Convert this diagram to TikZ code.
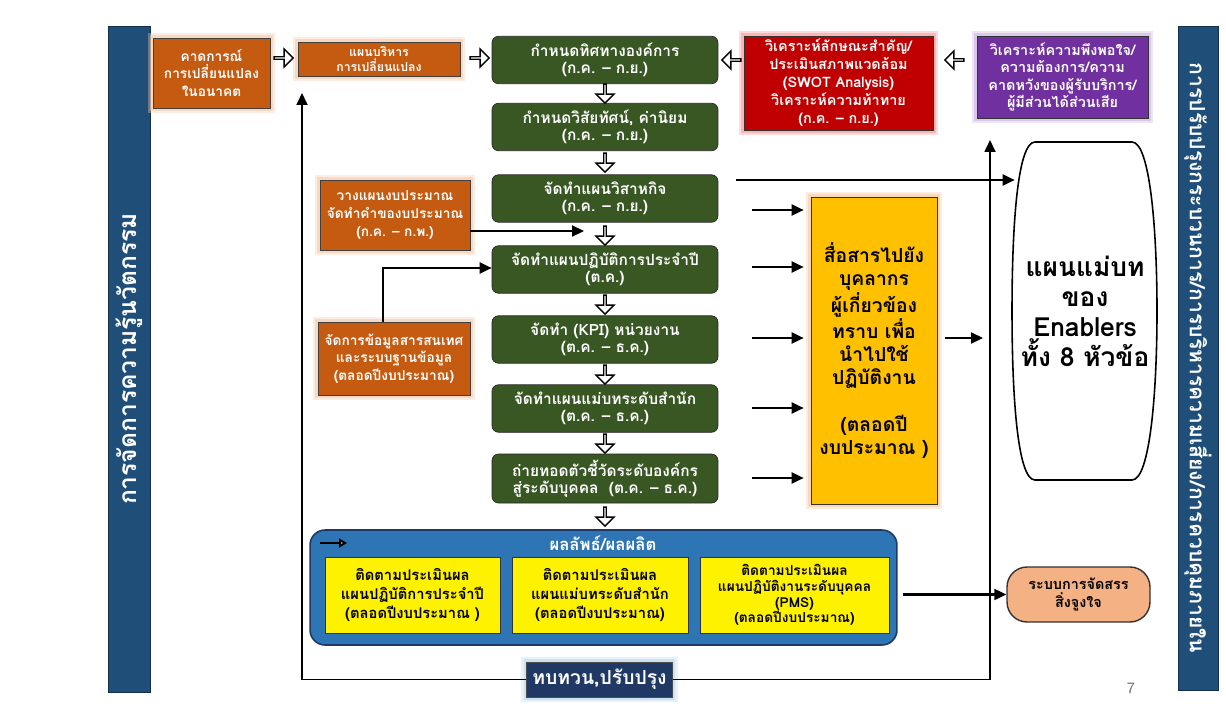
\documentclass[tikz,border=0pt]{standalone}
\usepackage{fontspec}
\newfontfamily\thai[Script=Thai]{Loma}
\usetikzlibrary{arrows.meta,shapes.arrows,positioning,calc}

\definecolor{sideblue}{HTML}{1F4E79}
\definecolor{boxorange}{HTML}{C55A11}
\definecolor{gloworange}{HTML}{F8CBAD}
\definecolor{boxgreen}{HTML}{385723}
\definecolor{boxred}{HTML}{C00000}
\definecolor{glowred}{HTML}{FF9A9A}
\definecolor{boxpurple}{HTML}{7030A0}
\definecolor{glowpurple}{HTML}{CDB6E2}
\definecolor{boxgold}{HTML}{FFC000}
\definecolor{boxblue}{HTML}{2E75B6}
\definecolor{boxnavy}{HTML}{203864}
\definecolor{glowblue}{HTML}{BDD7EE}
\definecolor{boxpeach}{HTML}{F4B183}

\begin{document}
\begin{tikzpicture}
        [x=0.02cm, y=-0.02cm,
        glow/.style={preaction={draw=#1, line width=6pt, opacity=0.35},
          preaction={draw=#1, line width=3pt, opacity=0.6}},
        side/.style={draw=sideblue!60!black, fill=sideblue, text=white, inner sep=0pt,
          font=\thai\bfseries\fontsize{13}{15}\selectfont},
        obox/.style={draw=black!75, fill=boxorange, text=white, align=center, inner sep=1pt,
          glow=gloworange, font=\thai\bfseries\fontsize{7.8}{10}\selectfont},
        gbox/.style={draw=black!85, fill=boxgreen, text=white, align=center, inner sep=1pt,
          rounded corners=0.13cm, minimum width=4.52cm, minimum height=0.95cm,
          font=\thai\bfseries\fontsize{8.8}{9.6}\selectfont},
        ybox/.style={draw=black!80, fill=yellow, align=center, inner sep=1pt,
          font=\thai\bfseries\fontsize{8.4}{10.6}\selectfont},
        hollow/.style={single arrow, draw=black, fill=white, line width=0.8pt, inner sep=0pt,
          minimum width=0.36cm, minimum height=0.38cm, single arrow head extend=0.09cm},
        conn/.style={line width=1.2pt, -{Triangle[length=2.4mm, width=2.2mm]}},
        fbline/.style={line width=1pt}]

        \fill[white] (0,0) rectangle (1226,713);
        \useasboundingbox (0,0) rectangle (1226,713);

        % side bars
        \node[side, rotate=90, minimum width=13.32cm, minimum height=0.84cm,
          font=\thai\bfseries\fontsize{14}{16}\selectfont] (lbar) at (129,359) {การจัดการความรู้นวัตกรรม};
        \node[side, rotate=-90, minimum width=13.28cm, minimum height=0.80cm] (rbar) at (1198,358) {};
        \node[text=white, rotate=-90, inner sep=0pt,
          font=\thai\bfseries\fontsize{12}{13}\selectfont] (rbartext) at (rbar.center) {การปรับปรุงกระบวนการ/การบริหารความเสี่ยง/การควบคุมภายใน};

        % top row
        \node[obox, minimum width=2.34cm, minimum height=1.4cm] (fore) at (211.5,73) {คาดการณ์\\การเปลี่ยนแปลง\\ในอนาคต};
        \node[obox, minimum width=3.24cm, minimum height=0.68cm, font=\thai\bfseries\fontsize{7}{8.2}\selectfont] (chg) at (379,59) {แผนบริหาร\\การเปลี่ยนแปลง};
        \node[draw=black!80, fill=boxred, text=white, align=center, inner sep=1pt, glow=glowred,
          minimum width=3.78cm, minimum height=1.88cm, font=\thai\bfseries\fontsize{8.2}{10.2}\selectfont] (swot) at (838.5,83)
          {วิเคราะห์ลักษณะสำคัญ/\\ประเมินสภาพแวดล้อม\\(SWOT Analysis)\\วิเคราะห์ความท้าทาย\\(ก.ค. – ก.ย.)};
        \node[draw=black!80, fill=boxpurple, text=white, align=center, inner sep=1pt, glow=glowpurple,
          minimum width=3.42cm, minimum height=1.64cm, font=\thai\bfseries\fontsize{8.2}{9.8}\selectfont] (cust) at (1062.5,77)
          {วิเคราะห์ความพึงพอใจ/\\ความต้องการ/ความ\\คาดหวังของผู้รับบริการ/\\ผู้มีส่วนได้ส่วนเสีย};

        % main chain of green steps
        \node[gbox] (g1) at (605,60) {กำหนดทิศทางองค์การ\\(ก.ค. – ก.ย.)};
        \node[gbox] (g2) at (605,127) {กำหนดวิสัยทัศน์, ค่านิยม\\(ก.ค. – ก.ย.)};
        \node[gbox] (g3) at (605,198.5) {จัดทำแผนวิสาหกิจ\\(ก.ค. – ก.ย.)};
        \node[gbox] (g4) at (605,269.5) {จัดทำแผนปฏิบัติการประจำปี\\(ต.ค.)};
        \node[gbox] (g5) at (605,339.5) {จัดทำ (KPI) หน่วยงาน\\(ต.ค. – ธ.ค.)};
        \node[gbox] (g6) at (605,408.5) {จัดทำแผนแม่บทระดับสำนัก\\(ต.ค. – ธ.ค.)};
        \node[gbox, minimum height=0.98cm] (g7) at (605,478.5) {ถ่ายทอดตัวชี้วัดระดับองค์กร\\สู่ระดับบุคคล~~(ต.ค. – ธ.ค.)};

        % hollow arrows
        \foreach \yy [count=\i] in {93,162,235,304,374,443,516}
          \node[hollow, shape border rotate=270] (d\i) at (605,\yy) {};
        \node[hollow] (h1) at (283,58) {};
        \node[hollow] (h2) at (479,58) {};
        \node[hollow, shape border rotate=180] (h3) at (732,60) {};
        \node[hollow, shape border rotate=180] (h4) at (955,60) {};

        % side inputs
        \node[obox, minimum width=3.0cm, minimum height=1.4cm] (bud) at (395,215) {วางแผนงบประมาณ\\จัดทำคำของบประมาณ\\(ก.ค. – ก.พ.)};
        \node[obox, minimum width=3.04cm, minimum height=1.46cm] (info) at (394,358.5) {จัดการข้อมูลสารสนเทศ\\และระบบฐานข้อมูล\\(ตลอดปีงบประมาณ)};

        % communication and master plan
        \node[draw=black!80, fill=boxgold, align=center, inner sep=1pt, glow=gloworange,
          minimum width=2.52cm, minimum height=6.14cm, font=\thai\bfseries\fontsize{11}{13.2}\selectfont] (comm) at (874,350.5)
          {สื่อสารไปยัง\\บุคลากร\\ผู้เกี่ยวข้อง\\ทราบ เพื่อ\\นำไปใช้\\ปฏิบัติงาน\\[13.2pt](ตลอดปี\\งบประมาณ )};
        \node[align=center, inner sep=0pt, minimum width=2.8cm, minimum height=6.74cm,
          font=\thai\bfseries\fontsize{15}{17}\selectfont] (big) at (1085,311.5)
          {แผนแม่บท\\ของ\\Enablers\\ทั้ง 8 หัวข้อ};
        \draw[line width=0.9pt] (1035,142) -- (1132,142)
          .. controls (1150,142) and (1157,230) .. (1157,311)
          .. controls (1157,392) and (1150,480) .. (1132,480) -- (1035,480)
          .. controls (1017,480) and (1012,392) .. (1012,311)
          .. controls (1012,230) and (1017,142) .. (1035,142) -- cycle;

        % results panel
        \node[draw=boxnavy, fill=boxblue, line width=0.9pt, rounded corners=0.3cm,
          minimum width=11.74cm, minimum height=2.3cm] (res) at (603.5,587.5) {};
        \node[text=white, font=\thai\bfseries\fontsize{9.5}{11}\selectfont] (restitle) at (603,543) {ผลลัพธ์/ผลผลิต};
        \node[ybox, minimum width=3.5cm, minimum height=1.52cm] (y1) at (412.5,595) {ติดตามประเมินผล\\แผนปฏิบัติการประจำปี\\(ตลอดปีงบประมาณ )};
        \node[ybox, minimum width=3.52cm, minimum height=1.52cm] (y2) at (600,595) {ติดตามประเมินผล\\แผนแม่บทระดับสำนัก\\(ตลอดปีงบประมาณ)};
        \node[ybox, minimum width=3.78cm, minimum height=1.52cm, font=\thai\bfseries\fontsize{7.8}{8.9}\selectfont] (y3) at (794.5,595)
          {ติดตามประเมินผล\\แผนปฏิบัติงานระดับบุคคล\\(PMS)\\(ตลอดปีงบประมาณ)};
        \node[draw=black!80, fill=boxpeach, align=center, rounded corners=0.4cm, line width=0.8pt,
          minimum width=2.86cm, minimum height=1.1cm, font=\thai\bfseries\fontsize{8.2}{10}\selectfont] (inc) at (1078.5,594.5)
          {ระบบการจัดสรร\\สิ่งจูงใจ};
        \node[draw=black!70, fill=boxnavy, text=white, glow=glowblue, minimum width=2.9cm, minimum height=0.7cm,
          font=\thai\bfseries\fontsize{11}{13}\selectfont] (rev) at (599.5,679.5) {ทบทวน,ปรับปรุง};
        \node[text=black!55, font=\sffamily\fontsize{9}{10}\selectfont] (pg) at (1131,688) {7};

        % connectors
        \coordinate (fbL) at (302,93);
        \coordinate (fbR) at (990,140);
        \draw[conn, line width=1pt] (rev.west) -| (fbL);
        \draw[conn, line width=1pt] (rev.east) -| (fbR);

        \coordinate (bt) at (584,231);
        \draw[conn] (bud.east |- bt) -- (bt);
        \coordinate (k1) at (383,268);
        \draw[conn] (info.north -| k1) -- (k1) -- (k1 -| g4.west);

        \coordinate (m1) at (736,180);
        \draw[conn] (m1) -- (m1 -| big.west);
        \foreach \yy in {210,267,338,408,478} {
          \coordinate (s) at (752,\yy);
          \draw[conn, shorten >=0.14cm] (s) -- (s -| comm.west);
        }
        \coordinate (c1) at (945,338);
        \coordinate (c2) at (983,338);
        \draw[conn] (c1) -- (c2);

        \coordinate (sa) at (320,543);
        \coordinate (sb) at (347,543);
        \draw[line width=1.2pt, -{Triangle[open, fill=white, length=1.6mm, width=1.8mm]}] (sa) -- (sb);
        \draw[conn] ([xshift=0.1cm]res.east |- inc.west) -- (inc.west);

        \end{tikzpicture}
\end{document}
